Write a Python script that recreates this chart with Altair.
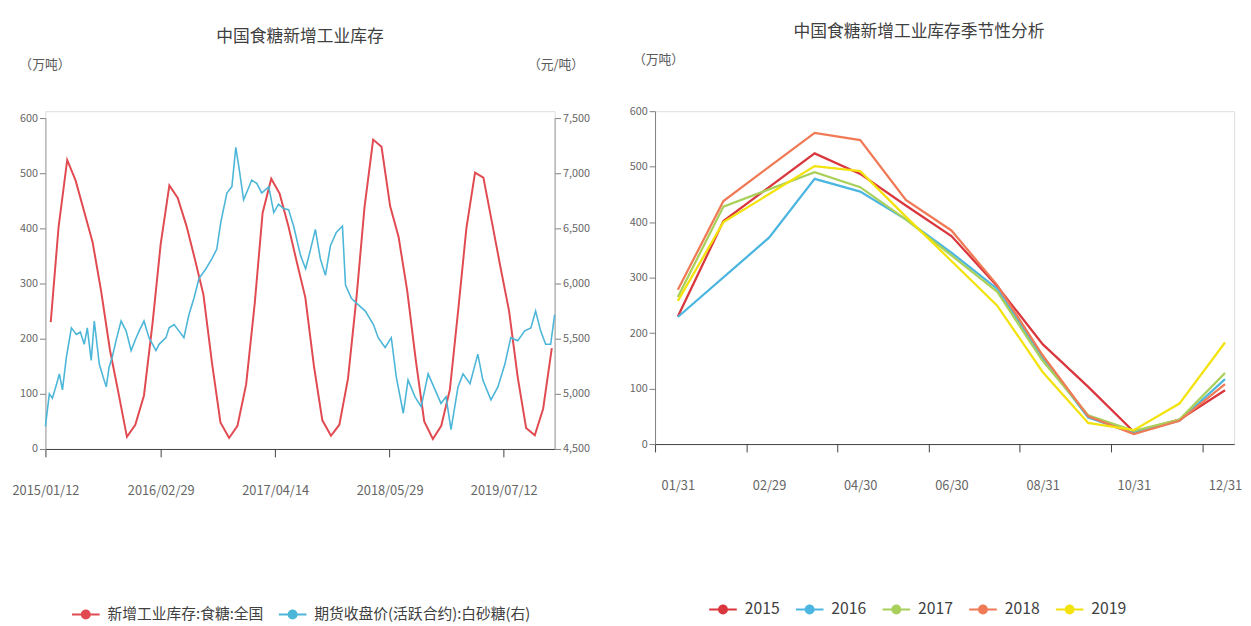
import altair as alt
import pandas as pd

FONT = "Noto Sans CJK SC"

# ---------------- data ----------------
season_labels = ["01/31", "02/28", "02/29", "03/31", "04/30", "05/31", "06/30",
                 "07/31", "08/31", "09/30", "10/31", "11/30", "12/31"]
years = ["2015", "2016", "2017", "2018", "2019"]
inv_2015 = [230, 402, None, 524, 487, 430, 375, 285, 180, 103, 22, 44, 97]
inv_2016 = [229, None, 372, 478, 455, 405, 345, 280, 155, 48, 20, 42, 117]
inv_2017 = [265, 428, None, 490, 463, 405, 340, 275, 150, 52, 24, 44, 128]
inv_2018 = [278, 438, None, 561, 548, 440, 385, 287, 160, 50, 18, 42, 108]
inv_2019 = [258, 400, None, 501, 492, 410, 330, 250, 130, 38, 25, 73, 183]
inventory = [inv_2015, inv_2016, inv_2017, inv_2018, inv_2019]

futures_dates = [
    "2015/01/12", "2015/01/26", "2015/02/06", "2015/02/20", "2015/03/03", "2015/03/14", "2015/03/28",
    "2015/04/15", "2015/05/03", "2015/05/17", "2015/05/31", "2015/06/11", "2015/06/25", "2015/07/06",
    "2015/07/24", "2015/08/07", "2015/08/18", "2015/08/28", "2015/09/08", "2015/09/22", "2015/10/10",
    "2015/10/28", "2015/11/15", "2015/12/03", "2015/12/14", "2015/12/31",
    "2016/01/18", "2016/02/12", "2016/02/23", "2016/03/19", "2016/03/30", "2016/04/17", "2016/05/04",
    "2016/05/22", "2016/06/09", "2016/06/27", "2016/07/15", "2016/08/09", "2016/08/30", "2016/09/17",
    "2016/10/01", "2016/10/23", "2016/11/10", "2016/11/24", "2016/12/05", "2016/12/22",
    "2017/01/06", "2017/01/20", "2017/02/07", "2017/02/25", "2017/03/22", "2017/04/09", "2017/04/26",
    "2017/05/14", "2017/06/01", "2017/06/19", "2017/07/14", "2017/08/01", "2017/08/19", "2017/09/05",
    "2017/09/23", "2017/10/11", "2017/10/29", "2017/11/19", "2017/12/11", "2017/12/22",
    "2018/01/12", "2018/02/06", "2018/03/03", "2018/04/01", "2018/04/18", "2018/05/13", "2018/06/04",
    "2018/06/22", "2018/07/17", "2018/08/03", "2018/08/28", "2018/09/19", "2018/10/14", "2018/11/08",
    "2018/11/29", "2018/12/17",
    "2019/01/04", "2019/01/29", "2019/02/16", "2019/03/13", "2019/04/10", "2019/04/28", "2019/05/27",
    "2019/06/21", "2019/07/16", "2019/08/06", "2019/08/31", "2019/09/25", "2019/10/17", "2019/11/03",
    "2019/11/21", "2019/12/09", "2019/12/27", "2020/01/10",
]
futures_price = [
    4705, 5000, 4960, 5080, 5181, 5036, 5330, 5598, 5538, 5560, 5449, 5598, 5303, 5660,
    5270, 5150, 5063, 5241, 5330, 5482, 5660, 5571, 5392, 5509, 5571, 5660,
    5509, 5392, 5449, 5509, 5598, 5628, 5571, 5509, 5717, 5866, 6045, 6134, 6223, 6312,
    6553, 6821, 6878, 7235, 7057, 6759,
    6850, 6938, 6908, 6821, 6878, 6643, 6720, 6680, 6670, 6521, 6253, 6134, 6312, 6491,
    6223, 6074, 6342, 6464, 6521, 5985,
    5866, 5806, 5750, 5628, 5509, 5420, 5509, 5152, 4824, 5125, 4973, 4884, 5181, 5036,
    4913, 4973,
    4676, 5063, 5181, 5092, 5360, 5125, 4946, 5063, 5270, 5509, 5482, 5571, 5598, 5750,
    5571, 5449, 5449, 5717,
]

left_x_tick_labels = ["2015/01/12", "2016/02/29", "2017/04/14", "2018/05/29", "2019/07/12"]
left_x_range = ["2015/01/12", "2020/01/10"]
left_y_ticks = [0, 100, 200, 300, 400, 500, 600]
right_y_ticks = [4500, 5000, 5500, 6000, 6500, 7000, 7500]

S_INV = "新增工业库存:食糖:全国"
S_FUT = "期货收盘价(活跃合约):白砂糖(右)"
RED = "#e04a50"
BLUE = "#4cb6d8"
year_colors = ["#d9373d", "#4cb6e0", "#a8d05a", "#f07a55", "#f3e20c"]

# ---------------- tables ----------------
rows = []
for y, vals in zip(years, inventory):
    for i, (lab, v) in enumerate(zip(season_labels, vals)):
        if v is None:
            continue
        rows.append({"date": f"{y}/{lab}", "idx": i, "year": y, "legend_year": y,
                     "value": v, "series": S_INV})
inv_df = pd.DataFrame(rows)
fut_df = pd.DataFrame({"date": futures_dates, "price": futures_price, "series": S_FUT})


def dt(s):
    y, m, d = (int(p) for p in s.split("/"))
    return alt.DateTime(year=y, month=m, date=d)


SYMBOL = ("M-1,-0.07L1,-0.07L1,0.07L-1,0.07Z "
          "M0.36,0A0.36,0.36 0 1 1 -0.36,0A0.36,0.36 0 1 1 0.36,0Z")

LW, LH = 517, 343
RW, RH = 588, 338

label_style = dict(labelFont=FONT, labelColor="#666666", titleFont=FONT, titleColor="#595959",
                   titleFontWeight="normal", grid=False)

x_scale = alt.Scale(domain=[dt(s) for s in left_x_range], nice=False)
y_inv_scale = alt.Scale(domain=[0, 600], range=[LH, 7], nice=False, zero=False)
y_fut_scale = alt.Scale(domain=[4500, 7500], range=[LH, 7], nice=False, zero=False)
color_left = alt.Scale(domain=[S_INV, S_FUT], range=[RED, BLUE])

x_left = alt.X("date:T", scale=x_scale,
               axis=alt.Axis(values=[dt(s) for s in left_x_tick_labels], format="%Y/%m/%d", title=None,
                             labelFontSize=13, tickSize=8, labelPadding=28, domainColor="#404040",
                             tickColor="#404040", labelAngle=0, labelFlush=False, **label_style))

red = alt.Chart(inv_df).mark_line(strokeWidth=2, color=RED).encode(
    x=x_left,
    y=alt.Y("value:Q", scale=y_inv_scale,
            axis=alt.Axis(values=left_y_ticks, title="（万吨）", titleAngle=0, titleX=-1, titleY=-47,
                          titleAlign="center", titleBaseline="middle", titleFontSize=13,
                          labelFontSize=11, tickSize=6, labelPadding=2, domainColor="#9a9a9a",
                          tickColor="#7f7f7f", **label_style)),
)

blue = alt.Chart(fut_df).mark_line(strokeWidth=1.6, color=BLUE).encode(
    x=x_left,
    y=alt.Y("price:Q", scale=y_fut_scale,
            axis=alt.Axis(orient="right", values=right_y_ticks, format=",d", title="（元/吨）", titleAngle=0,
                          titleX=1, titleY=-47, titleAlign="center", titleBaseline="middle",
                          titleFontSize=13, labelFontSize=11, tickSize=6, labelPadding=2,
                          domainColor="#9a9a9a", tickColor="#7f7f7f", **label_style)),
)

left_legend = alt.Chart(inv_df).mark_point(filled=True, size=0, opacity=1, shape=SYMBOL).encode(
    x=x_left,
    y=alt.Y("value:Q", scale=y_inv_scale, axis=None),
    fill=alt.Fill("series:N", scale=color_left,
                  legend=alt.Legend(orient="none", legendX=27, legendY=497, direction="horizontal",
                                    title=None, symbolType=SYMBOL, symbolSize=784, symbolStrokeWidth=0,
                                    labelFont=FONT, labelFontSize=15, labelColor="#404040",
                                    labelOffset=8, columnPadding=15, labelLimit=400)),
)

left = alt.layer(red, blue, left_legend).resolve_scale(y="independent").properties(
    width=LW, height=LH,
    title=alt.TitleParams("中国食糖新增工业库存", font=FONT, fontSize=17, color="#404040",
                          fontWeight="normal", offset=13, anchor="middle"),
)

# ---------------- right chart ----------------
label_expr = "[" + ",".join(f"'{s}'" for s in season_labels) + "][datum.value]"
step = RW / 12.7
xr_scale = alt.Scale(domain=[-0.5, 12.2], nice=False, zero=False)
yr_scale = alt.Scale(domain=[0, 600], nice=False, zero=False)
stroke_years = alt.Scale(range=year_colors)          # data-driven domain (sorted years)
fill_years = alt.Scale(domain=years, range=year_colors)

x_right = alt.X("idx:Q", scale=xr_scale,
                axis=alt.Axis(values=list(range(0, 13, 2)), labelExpr=label_expr, title=None,
                              tickOffset=-step / 2, labelOffset=step / 2, labelFontSize=13, tickSize=8,
                              labelPadding=28, labelFlush=False, domainColor="#404040",
                              tickColor="#404040", **label_style))
y_right = alt.Y("value:Q", scale=yr_scale,
                axis=alt.Axis(values=left_y_ticks, title="（万吨）", titleAngle=0, titleX=3, titleY=-52,
                              titleAlign="center", titleBaseline="middle", titleFontSize=13,
                              labelFontSize=11, tickSize=6, labelPadding=2, domainColor="#7f7f7f",
                              tickColor="#7f7f7f", **label_style))

lines = alt.Chart(inv_df).mark_line(strokeWidth=2.3).encode(
    x=x_right,
    y=y_right,
    stroke=alt.Stroke("year:N", scale=stroke_years, legend=None),
)

right_legend = alt.Chart(inv_df).mark_point(filled=True, size=0, opacity=1, shape=SYMBOL).encode(
    x=x_right,
    y=y_right,
    fill=alt.Fill("legend_year:N", scale=fill_years,
                  legend=alt.Legend(orient="none", legendX=55, legendY=492, direction="horizontal",
                                    title=None, symbolType=SYMBOL, symbolSize=784, symbolStrokeWidth=0,
                                    labelFont=FONT, labelFontSize=16, labelColor="#404040",
                                    labelOffset=8, columnPadding=16)),
)

right = alt.layer(lines, right_legend).properties(
    width=RW, height=RH,
    title=alt.TitleParams("中国食糖新增工业库存季节性分析", font=FONT, fontSize=17, color="#404040",
                          fontWeight="normal", offset=13, anchor="middle", dx=-26),
)

chart = alt.hconcat(left, right, spacing=39).resolve_scale(fill="independent", stroke="independent").properties(
    padding={"left": 3, "top": 10, "right": 0, "bottom": 0}
).configure_view(strokeWidth=0).configure(font=FONT)

chart.save("out.html", embed_options={"renderer": "svg", "actions": False})
